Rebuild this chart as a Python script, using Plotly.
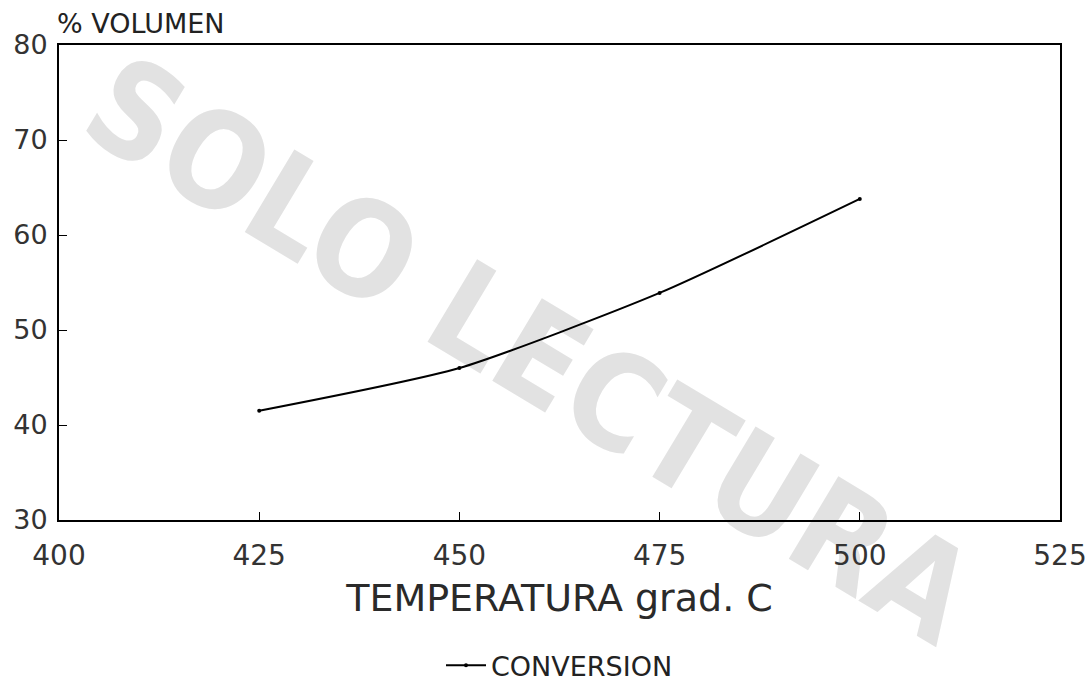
import plotly.graph_objects as go

temperatura = [425, 450, 475, 500]
conversion = [41.5, 46.0, 53.9, 63.8]
x_ticks = [400, 425, 450, 475, 500, 525]
y_ticks = [30, 40, 50, 60, 70, 80]

FONT = "DejaVu Sans"
TXT = "#222222"

fig = go.Figure()
fig.add_trace(go.Scatter(
    x=temperatura, y=conversion, mode="lines+markers", name="CONVERSION",
    line=dict(color="black", width=2, shape="spline", smoothing=0.6),
    marker=dict(color="black", size=4),
))

fig.update_layout(
    width=1092, height=684,
    margin=dict(l=59, r=32, t=45, b=164, autoexpand=False),
    paper_bgcolor="white", plot_bgcolor="white",
    font=dict(family=FONT, color=TXT),
    showlegend=True,
    legend=dict(orientation="h", x=0.5, xanchor="center", y=-0.255, yanchor="top",
                font=dict(size=27, family=FONT, color=TXT), itemwidth=40,
                bgcolor="rgba(0,0,0,0)"),
    xaxis=dict(range=[400, 525], tickvals=x_ticks, showgrid=False, zeroline=False,
               showline=True, linecolor="black", linewidth=2, mirror=True, automargin=False,
               ticks="inside", ticklen=8, tickcolor="black", ticklabelstandoff=9,
               tickfont=dict(size=28, family=FONT, color="#333333"),
               title=dict(text="TEMPERATURA grad. C", font=dict(size=38, family=FONT, color="#2a2a2a"),
                          standoff=14)),
    yaxis=dict(range=[30, 80], tickvals=y_ticks, showgrid=False, zeroline=False,
               showline=True, linecolor="black", linewidth=2, mirror=True, automargin=False,
               ticks="inside", ticklen=8, tickcolor="black", ticklabelstandoff=4,
               tickfont=dict(size=27, family=FONT, color="#333333")),
    shapes=[dict(type="rect", xref="paper", yref="paper", x0=-0.1, x1=1.05, y0=-0.3, y1=1.05,
                 layer="below", line=dict(width=0), fillcolor="rgba(0,0,0,0)",
                 label=dict(text="<b>SOLO LECTURA</b>", textangle=31, textposition="middle center",
                            font=dict(family="DejaVu Sans Condensed", size=132, color="#e2e2e2")))],
    annotations=[dict(text="% VOLUMEN", xref="paper", yref="paper", x=-0.004, y=1.0,
                      xanchor="left", yanchor="bottom", yshift=4, showarrow=False,
                      font=dict(size=27, family=FONT, color=TXT))],
)

fig.write_html("out.html")
